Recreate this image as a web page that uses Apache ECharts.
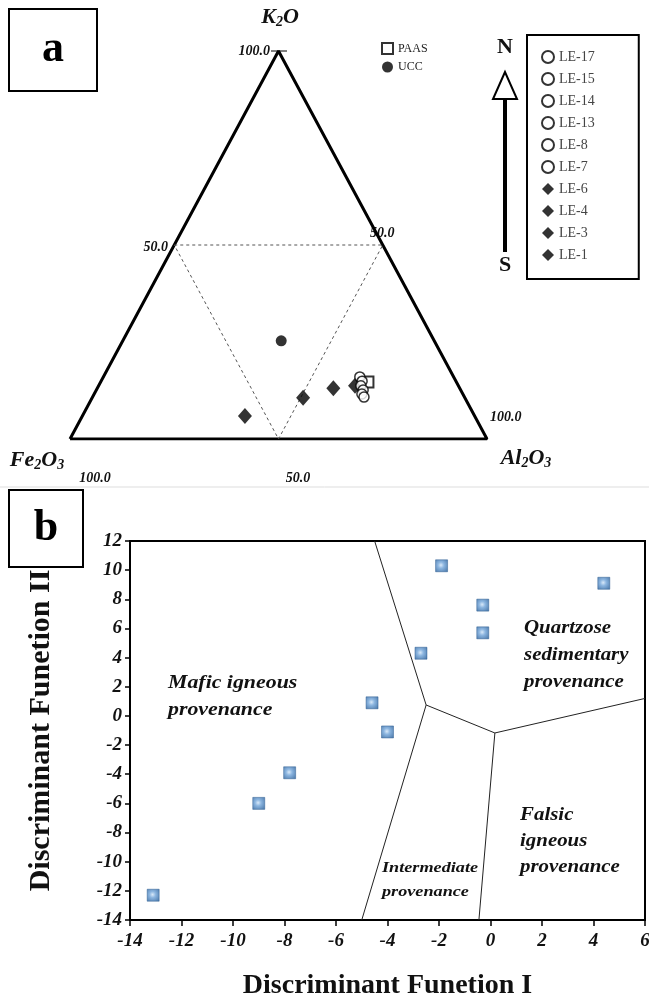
<!DOCTYPE html>
<html><head><meta charset="utf-8">
<script src="https://cdn.jsdelivr.net/npm/echarts@6/dist/echarts.min.js"></script>
<style>html,body{margin:0;padding:0;background:#fff}#c{width:649px;height:996px}</style>
</head><body><div id="c"></div>
<script>
// ---- Panel a: ternary K2O - Fe2O3 - Al2O3 (percent) ----
const circleNames = ['LE-17','LE-15','LE-14','LE-13','LE-8','LE-7'];
const circleK2O   = [16.0, 14.9, 13.7, 12.6, 11.6, 10.8];
const circleFe2O3 = [22.5, 22.5, 23.4, 23.4, 24.2, 24.1];
const circleAl2O3 = [61.5, 62.6, 62.9, 64.0, 64.2, 65.1];
const diamondNames = ['LE-6','LE-4','LE-3','LE-1'];
const diamondK2O   = [13.7, 13.1, 10.6, 5.9];
const diamondFe2O3 = [24.8, 30.3, 38.8, 55.1];
const diamondAl2O3 = [61.5, 56.6, 50.6, 39.0];
const refNames = ['PAAS','UCC'];
const refK2O   = [14.7, 25.3];
const refFe2O3 = [21.2, 36.7];
const refAl2O3 = [64.1, 38.0];

// ---- Panel b: discriminant functions ----
const dfI  = [-1.9, 4.4, -0.3, -0.3, -2.7, -4.6, -4.0, -7.8, -9.0, -13.1];
const dfII = [10.3, 9.1, 7.6, 5.7, 4.3, 0.9, -1.1, -3.9, -6.0, -12.3];
const boundaryUpper = [[-4.5, 12], [-2.5, 0.75], [0.17, -1.17], [6, 1.2]];
const boundaryLowerLeft = [[-2.5, 0.75], [-5.0, -14]];
const boundaryLowerRight = [[0.17, -1.17], [-0.45, -14]];

const SERIF = 'Liberation Serif, Times New Roman, serif';

function tern(k, fe, al) { const s = k + fe + al; return [(al + k / 2) / s, k / s]; }

const chart = echarts.init(document.getElementById('c'), null, {renderer: 'canvas'});

const series = [];
series.push({type: 'line', xAxisIndex: 0, yAxisIndex: 0, silent: true, symbol: 'none',
  data: [tern(0,100,0), tern(0,0,100), tern(100,0,0), tern(0,100,0)],
  lineStyle: {color: '#000', width: 3}, z: 2});
series.push({type: 'line', xAxisIndex: 0, yAxisIndex: 0, silent: true, symbol: 'none',
  data: [tern(50,50,0), tern(50,0,50), tern(0,50,50), tern(50,50,0)],
  lineStyle: {color: '#555', width: 1, type: [3, 3]}, z: 2});
circleNames.forEach((n, i) => series.push({
  type: 'scatter', name: n, xAxisIndex: 0, yAxisIndex: 0, symbol: 'circle', symbolSize: 10,
  itemStyle: {color: '#fff', borderColor: '#000', borderWidth: 1.5},
  data: [tern(circleK2O[i], circleFe2O3[i], circleAl2O3[i])], z: 5}));
diamondNames.forEach((n, i) => series.push({
  type: 'scatter', name: n, xAxisIndex: 0, yAxisIndex: 0, symbol: 'diamond', symbolSize: [14, 16],
  itemStyle: {color: '#000'},
  data: [tern(diamondK2O[i], diamondFe2O3[i], diamondAl2O3[i])], z: 4}));
series.push({type: 'scatter', name: 'PAAS', xAxisIndex: 0, yAxisIndex: 0, symbol: 'rect', symbolSize: 11,
  itemStyle: {color: '#fff', borderColor: '#000', borderWidth: 2},
  data: [tern(refK2O[0], refFe2O3[0], refAl2O3[0])], z: 3});
series.push({type: 'scatter', name: 'UCC', xAxisIndex: 0, yAxisIndex: 0, symbol: 'circle', symbolSize: 11,
  itemStyle: {color: '#000'},
  data: [tern(refK2O[1], refFe2O3[1], refAl2O3[1])], z: 3});

[boundaryUpper, boundaryLowerLeft, boundaryLowerRight].forEach(b => series.push({
  type: 'line', xAxisIndex: 1, yAxisIndex: 1, silent: true, symbol: 'none', data: b,
  lineStyle: {color: '#222', width: 1}, z: 2}));
series.push({type: 'scatter', xAxisIndex: 1, yAxisIndex: 1, symbol: 'rect', symbolSize: 12,
  itemStyle: {
    color: new echarts.graphic.RadialGradient(0.45, 0.45, 0.7, [
      {offset: 0, color: '#cfe3f7'}, {offset: 0.35, color: '#6fa3d8'}, {offset: 1, color: '#1f5896'}]),
    borderColor: '#2a5b8f', borderWidth: 0.6},
  data: dfI.map((x, i) => [x, dfII[i]]), z: 5});

const axisLbl = {fontFamily: SERIF, fontWeight: 'bold', fontStyle: 'italic', fontSize: 19, color: '#111'};

function rich(size) {
  return {
    a: {fontFamily: SERIF, fontWeight: 'bold', fontStyle: 'italic', fontSize: size, fill: '#111'},
    s: {fontFamily: SERIF, fontWeight: 'bold', fontStyle: 'italic', fontSize: Math.round(size * 0.62), fill: '#111', padding: [Math.round(size*0.45), 0, 0, 0]}
  };
}
function txt(x, y, text, size, opts, sx) {
  return {type: 'text', x: x, y: y, scaleX: sx || 1, style: Object.assign({text: text,
    font: 'italic bold ' + size + 'px ' + SERIF, fill: '#111'}, opts || {})};
}
function boxLabel(x, y, w, h, letter) {
  return [
    {type: 'rect', shape: {x: x, y: y, width: w, height: h}, style: {fill: '#fff', stroke: '#000', lineWidth: 2}},
    {type: 'text', x: x + w / 2, y: y + h / 2, style: {text: letter, font: 'bold 44px ' + SERIF, fill: '#000', align: 'center', verticalAlign: 'middle'}}
  ];
}
function richText(x, y, str, size, align) {
  return {type: 'text', x: x, y: y, style: {text: str, rich: rich(size), align: align || 'left', verticalAlign: 'middle'}};
}
const mid = {verticalAlign: 'middle'};

const graphics = [].concat(
  boxLabel(9, 9, 88, 82, 'a'),
  boxLabel(9, 490, 74, 77, 'b'),
  [
    {type: 'line', shape: {x1: 0, y1: 487, x2: 649, y2: 487}, style: {stroke: '#ddd', lineWidth: 1}},
    richText(280, 17, '{a|K}{s|2}{a|O}', 22, 'center'),
    richText(37, 460, '{a|Fe}{s|2}{a|O}{s|3}', 22, 'center'),
    richText(526, 458, '{a|Al}{s|2}{a|O}{s|3}', 22, 'center'),
    txt(270, 51, '100.0', 14, {align: 'right', verticalAlign: 'middle'}),
    txt(168, 247, '50.0', 14, {align: 'right', verticalAlign: 'middle'}),
    txt(370, 233, '50.0', 14, {align: 'left', verticalAlign: 'middle'}),
    txt(490, 417, '100.0', 14, {align: 'left', verticalAlign: 'middle'}),
    txt(95, 478, '100.0', 14, {align: 'center', verticalAlign: 'middle'}),
    txt(298, 478, '50.0', 14, {align: 'center', verticalAlign: 'middle'}),
    {type: 'line', shape: {x1: 271, y1: 51, x2: 287, y2: 51}, style: {stroke: '#000', lineWidth: 1}},
    {type: 'text', x: 505, y: 47, style: {text: 'N', font: 'bold 22px ' + SERIF, fill: '#111', align: 'center', verticalAlign: 'middle'}},
    {type: 'text', x: 505, y: 265, style: {text: 'S', font: 'bold 22px ' + SERIF, fill: '#111', align: 'center', verticalAlign: 'middle'}},
    {type: 'line', shape: {x1: 505, y1: 99, x2: 505, y2: 252}, style: {stroke: '#000', lineWidth: 4}},
    {type: 'polygon', shape: {points: [[505, 72], [493, 99], [517, 99]]}, style: {fill: '#fff', stroke: '#000', lineWidth: 2}},
    txt(168, 683, 'Mafic igneous', 19, mid, 1.15),
    txt(168, 710, 'provenance', 19, mid, 1.15),
    txt(524, 628, 'Quartzose', 19, mid, 1.1),
    txt(524, 655, 'sedimentary', 19, mid, 1.1),
    txt(524, 682, 'provenance', 19, mid, 1.1),
    txt(520, 815, 'Falsic', 19, mid, 1.1),
    txt(520, 841, 'igneous', 19, mid, 1.1),
    txt(520, 867, 'provenance', 19, mid, 1.1),
    txt(382, 868, 'Intermediate', 14, mid, 1.3),
    txt(382, 892, 'provenance', 14, mid, 1.3)
  ]
);

chart.setOption({
  animation: false,
  backgroundColor: '#fff',
  grid: [
    {left: 70, top: 51, width: 417, height: 388, outerBoundsMode: 'none', containLabel: false},
    {left: 130, top: 541, right: 4, bottom: 76, show: true, borderColor: '#000', borderWidth: 2,
     backgroundColor: 'transparent', outerBoundsMode: 'none', containLabel: false}
  ],
  xAxis: [
    {gridIndex: 0, type: 'value', min: 0, max: 1, show: false},
    {gridIndex: 1, type: 'value', min: -14, max: 6, interval: 2,
     axisLine: {onZero: false, lineStyle: {color: '#000', width: 2}}, axisTick: {show: true, length: 6, lineStyle: {color: '#000', width: 1.5}},
     splitLine: {show: false}, axisLabel: Object.assign({margin: 12}, axisLbl),
     name: 'Discriminant Funetion I', nameLocation: 'middle', nameGap: 52,
     nameTextStyle: {fontFamily: SERIF, fontWeight: 'bold', fontSize: 28, color: '#111'}}
  ],
  yAxis: [
    {gridIndex: 0, type: 'value', min: 0, max: 1, show: false},
    {gridIndex: 1, type: 'value', min: -14, max: 12, interval: 2,
     axisLine: {onZero: false, lineStyle: {color: '#000', width: 2}}, axisTick: {show: true, length: 5, lineStyle: {color: '#000', width: 1.5}},
     splitLine: {show: false}, axisLabel: Object.assign({margin: 8}, axisLbl),
     name: 'Discriminant Funetion II', nameLocation: 'middle', nameGap: 74,
     nameTextStyle: {fontFamily: SERIF, fontWeight: 'bold', fontSize: 30, color: '#111'}}
  ],
  legend: [
    {data: circleNames.concat(diamondNames), orient: 'vertical', left: 527, top: 35,
     padding: [15, 44, 17, 14], itemGap: 8, itemWidth: 12, itemHeight: 12,
     borderColor: '#000', borderWidth: 2, selectedMode: false,
     textStyle: {fontFamily: SERIF, fontSize: 14, color: '#444'}},
    {data: refNames, orient: 'vertical', left: 381, top: 42, itemGap: 6, itemWidth: 11, itemHeight: 11,
     padding: 0, selectedMode: false,
     textStyle: {fontFamily: SERIF, fontSize: 12, color: '#222'}}
  ],
  graphic: graphics,
  series: series
});
</script></body></html>
